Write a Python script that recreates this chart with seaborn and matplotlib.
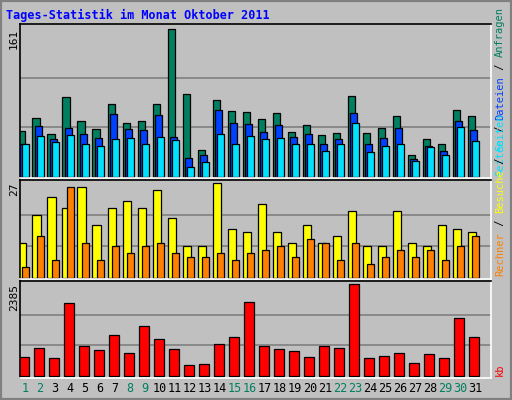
import numpy as np
import seaborn as sns
import matplotlib.pyplot as plt
from matplotlib.patches import Rectangle

days = np.arange(1, 32)
weekend = [1, 2, 8, 9, 15, 16, 22, 23, 29, 30]

anfragen = [50, 64, 46, 87, 60, 52, 79, 58, 60, 79, 161, 90, 29, 83, 71, 70,
            63, 69, 48, 56, 45, 47, 88, 47, 53, 66, 23, 41, 35, 72, 66]
dateien = [36, 55, 41, 53, 46, 42, 68, 52, 51, 67, 43, 20, 23, 72, 58, 57,
           48, 56, 43, 46, 35, 41, 69, 36, 42, 53, 19, 33, 28, 60, 51]
seiten = [35, 44, 38, 45, 35, 33, 41, 42, 35, 43, 40, 10, 16, 46, 36, 44,
          41, 42, 35, 35, 28, 36, 58, 27, 33, 36, 17, 32, 24, 54, 39]
besuche = [10, 18, 23, 20, 26, 15, 20, 22, 20, 25, 17, 9, 9, 27, 14, 13,
           21, 13, 10, 15, 10, 12, 19, 9, 9, 19, 10, 9, 15, 14, 13]
rechner = [3, 12, 5, 26, 10, 5, 9, 7, 9, 10, 7, 6, 6, 7, 5, 7,
           8, 9, 6, 11, 10, 5, 10, 4, 6, 8, 6, 8, 5, 9, 12]
kb = [479, 713, 452, 1888, 766, 661, 1053, 583, 1288, 948, 687, 270, 296, 818, 1000, 1914,
      766, 687, 635, 479, 766, 713, 2385, 452, 505, 583, 322, 557, 452, 1496, 1000]

sns.set_style("white")
plt.rcParams["font.family"] = ["DejaVu Sans Mono", "DejaVu Sans"]
BG = "#c0c0c0"
W, H = 512, 400
fig = plt.figure(figsize=(W / 100, H / 100), dpi=100, facecolor=BG)


def px_axes(x0, y0, x1, y1):
    return fig.add_axes([x0 / W, 1 - y1 / H, (x1 - x0) / W, (y1 - y0) / H])


def style(ax, top, ylim):
    ax.set_facecolor(BG)
    ax.set_xlim(0.67, 32.05)
    ax.set_ylim(*ylim)
    for f in (1 / 3, 2 / 3):
        ax.axhline(top * f, color="#808080", lw=1.2, zorder=0)
    ax.set_xticks([])
    ax.set_yticks([])
    for s in ax.spines.values():
        s.set_color("white")
        s.set_linewidth(1.2)
    ax.spines["left"].set_color("black")
    ax.spines["top"].set_color("black")


def bars(ax, vals, left, right, color):
    ax.bar(days + left, vals, width=right - left, align="edge", color=color,
           edgecolor="black", linewidth=0.9, zorder=2)


ax1 = px_axes(20, 24, 491, 178)
style(ax1, 161, (-1.5, 166))
bars(ax1, anfragen, -0.5, 0.0, "#008060")
bars(ax1, dateien, -0.35, 0.15, "#0040ff")
bars(ax1, seiten, -0.22, 0.27, "#00e0ff")

ax2 = px_axes(20, 180, 491, 279)
style(ax2, 27, (-0.3, 27.9))
bars(ax2, besuche, -0.5, 0.06, "#ffff00")
bars(ax2, rechner, -0.23, 0.28, "#ff8000")

ax3 = px_axes(20, 281, 491, 378)
style(ax3, 2385, (-60, 2471))
bars(ax3, kb, -0.43, 0.28, "#ff0000")

for ax, lbl in ((ax1, "161"), (ax2, "27"), (ax3, "2385")):
    ax.text(-0.013, 0.97, lbl, transform=ax.transAxes, rotation=90,
            ha="center", va="top", fontsize=8, color="black")

for d in days:
    ax3.text(d, -0.11, str(d), transform=ax3.get_xaxis_transform(),
             ha="center", va="center", fontsize=8.5,
             color="#008060" if d in weekend else "black")

fig.text(6 / W, 1 - 15 / H, "Tages-Statistik im Monat Oktober 2011",
         color="#0000ff", fontweight="bold", fontsize=8.5, va="center")

fig.canvas.draw()
renderer = fig.canvas.get_renderer()


def right_label(parts, y_bottom_px):
    y = 1 - y_bottom_px / H
    for txt, col in parts:
        t = fig.text(500 / W, y, txt, rotation=90, color=col,
                     fontsize=7.5, ha="center", va="bottom")
        bb = t.get_window_extent(renderer)
        y += bb.height / H


right_label([("Seiten", "#00e0ff"), (" / ", "black"), ("Dateien", "#0040ff"),
             (" / ", "black"), ("Anfragen", "#008060")], 176)
right_label([("Rechner", "#ff8000"), (" / ", "black"), ("Besuche", "#ffff00"),
             (" / ", "black"), ("Seiten", "#00e0ff")], 276)
right_label([("kb", "#ff0000")], 376)

fig.patches.append(Rectangle((0, 0), 1, 1, transform=fig.transFigure,
                             fill=False, edgecolor="#808080", lw=3))

fig.savefig("out.png", dpi=100, facecolor=BG)
